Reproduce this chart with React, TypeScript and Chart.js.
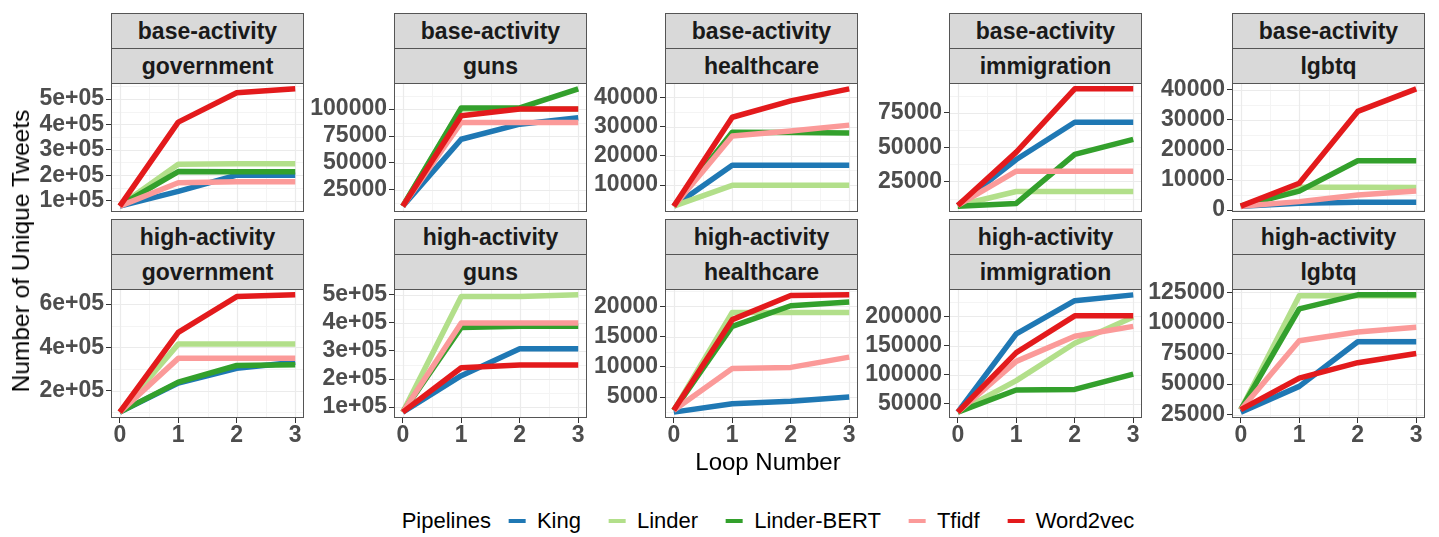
import React, { useEffect, useRef } from "react";
import { Chart, registerables } from "chart.js";
Chart.register(...registerables);

// ---------- data ----------
const loops = [0, 1, 2, 3];
const pipelines = ["King", "Linder", "Linder-BERT", "Tfidf", "Word2vec"];
const pipelineColors = ["#1F78B4", "#B2DF8A", "#33A02C", "#FB9A99", "#E31A1C"];
const activities = ["base-activity", "high-activity"];
const topics = ["government", "guns", "healthcare", "immigration", "lgbtq"];

// series values, in pipeline order: King, Linder, Linder-BERT, Tfidf, Word2vec
const baseGovernment = [
  [78000, 136000, 200000, 200000],
  [80000, 243000, 245000, 245000],
  [80000, 214000, 213000, 213000],
  [78000, 170000, 174000, 174000],
  [78000, 409000, 525000, 540000],
];
const baseGuns = [
  [10000, 72000, 86000, 92000],
  [10000, 100000, 100000, 100000],
  [10000, 101000, 101000, 118700],
  [10000, 87500, 87500, 87500],
  [10000, 93700, 100000, 100000],
];
const baseHealthcare = [
  [2800, 16800, 16800, 16800],
  [2800, 9900, 9900, 9900],
  [2800, 28100, 28000, 27800],
  [2800, 26800, 28500, 30500],
  [2800, 33200, 38800, 42900],
];
const baseImmigration = [
  [7500, 41000, 68200, 68200],
  [7500, 17700, 17700, 17700],
  [7000, 9000, 44700, 55700],
  [7500, 32500, 32500, 32500],
  [7500, 46400, 92500, 92500],
];
const baseLgbtq = [
  [1300, 2300, 2600, 2600],
  [1300, 7600, 7600, 7500],
  [1300, 6300, 16400, 16400],
  [1300, 2800, 5000, 6300],
  [1300, 8900, 32800, 40300],
];
const highGovernment = [
  [100000, 235000, 303000, 331000],
  [100000, 415000, 415000, 415000],
  [100000, 239000, 316000, 319000],
  [100000, 349000, 349000, 349000],
  [100000, 469000, 635000, 643000],
];
const highGuns = [
  [82000, 212000, 308000, 308000],
  [82000, 494000, 494000, 500000],
  [82000, 384000, 388000, 388000],
  [82000, 400000, 400000, 400000],
  [82000, 240000, 250000, 250000],
];
const highHealthcare = [
  [2500, 3900, 4300, 5000],
  [2800, 19000, 19000, 19000],
  [2800, 16700, 20100, 20700],
  [2800, 9700, 9900, 11600],
  [2800, 17800, 21800, 21900],
];
const highImmigration = [
  [36000, 170000, 227000, 237000],
  [36000, 90000, 154000, 199000],
  [36000, 74000, 75000, 101000],
  [36000, 123000, 166000, 183000],
  [36000, 138000, 201000, 201000],
];
const highLgbtq = [
  [27000, 48100, 84600, 84600],
  [29000, 122300, 122300, 122300],
  [29000, 111500, 123000, 123000],
  [29000, 85500, 92600, 96400],
  [29000, 54800, 67500, 75000],
];

// y tick values and labels per panel
const baseGovernmentTicks = [100000, 200000, 300000, 400000, 500000];
const baseGovernmentTickLabels = ["1e+05", "2e+05", "3e+05", "4e+05", "5e+05"];
const baseGunsTicks = [25000, 50000, 75000, 100000];
const baseGunsTickLabels = ["25000", "50000", "75000", "100000"];
const baseHealthcareTicks = [10000, 20000, 30000, 40000];
const baseHealthcareTickLabels = ["10000", "20000", "30000", "40000"];
const baseImmigrationTicks = [25000, 50000, 75000];
const baseImmigrationTickLabels = ["25000", "50000", "75000"];
const baseLgbtqTicks = [0, 10000, 20000, 30000, 40000];
const baseLgbtqTickLabels = ["0", "10000", "20000", "30000", "40000"];
const highGovernmentTicks = [200000, 400000, 600000];
const highGovernmentTickLabels = ["2e+05", "4e+05", "6e+05"];
const highGunsTicks = [100000, 200000, 300000, 400000, 500000];
const highGunsTickLabels = ["1e+05", "2e+05", "3e+05", "4e+05", "5e+05"];
const highHealthcareTicks = [5000, 10000, 15000, 20000];
const highHealthcareTickLabels = ["5000", "10000", "15000", "20000"];
const highImmigrationTicks = [50000, 100000, 150000, 200000];
const highImmigrationTickLabels = ["50000", "100000", "150000", "200000"];
const highLgbtqTicks = [25000, 50000, 75000, 100000, 125000];
const highLgbtqTickLabels = ["25000", "50000", "75000", "100000", "125000"];

const xTicks = [0, 1, 2, 3];

const panels = [
  { row: 0, col: 0, values: baseGovernment, ticks: baseGovernmentTicks, labels: baseGovernmentTickLabels },
  { row: 0, col: 1, values: baseGuns, ticks: baseGunsTicks, labels: baseGunsTickLabels },
  { row: 0, col: 2, values: baseHealthcare, ticks: baseHealthcareTicks, labels: baseHealthcareTickLabels },
  { row: 0, col: 3, values: baseImmigration, ticks: baseImmigrationTicks, labels: baseImmigrationTickLabels },
  { row: 0, col: 4, values: baseLgbtq, ticks: baseLgbtqTicks, labels: baseLgbtqTickLabels },
  { row: 1, col: 0, values: highGovernment, ticks: highGovernmentTicks, labels: highGovernmentTickLabels },
  { row: 1, col: 1, values: highGuns, ticks: highGunsTicks, labels: highGunsTickLabels },
  { row: 1, col: 2, values: highHealthcare, ticks: highHealthcareTicks, labels: highHealthcareTickLabels },
  { row: 1, col: 3, values: highImmigration, ticks: highImmigrationTicks, labels: highImmigrationTickLabels },
  { row: 1, col: 4, values: highLgbtq, ticks: highLgbtqTicks, labels: highLgbtqTickLabels },
];

// ---------- layout ----------
const FONT = '"Liberation Sans", Arial, Helvetica, sans-serif';
const COL_LEFT = [111, 394, 665, 949, 1232];
const PW = 193;
const STRIP_TOP = [13, 219];
const STRIP_H = 35;
const PH = 129;
const YW = 100;
const PT = 18;
const PR = 12;
const PB = 18;
const XH = 42;
const BORDER = "#555555";

const ggPanel = {
  id: "ggPanel",
  beforeDatasetsDraw(chart: any, _args: any, opts: any) {
    const { ctx, chartArea: a, scales } = chart;
    const xs = scales.x;
    const ys = scales.y;
    const yt: number[] = opts.yTicks;
    ctx.save();
    ctx.beginPath();
    ctx.rect(a.left, a.top, a.right - a.left, a.bottom - a.top);
    ctx.clip();
    const hline = (v: number, color: string, w: number) => {
      const p = Math.round(ys.getPixelForValue(v)) + 0.5;
      ctx.strokeStyle = color;
      ctx.lineWidth = w;
      ctx.beginPath();
      ctx.moveTo(a.left, p);
      ctx.lineTo(a.right, p);
      ctx.stroke();
    };
    const vline = (v: number, color: string, w: number) => {
      const p = Math.round(xs.getPixelForValue(v)) + 0.5;
      ctx.strokeStyle = color;
      ctx.lineWidth = w;
      ctx.beginPath();
      ctx.moveTo(p, a.top);
      ctx.lineTo(p, a.bottom);
      ctx.stroke();
    };
    const step = yt[1] - yt[0];
    for (let k = -4; k < yt.length + 4; k++) {
      const v = yt[0] + (k + 0.5) * step;
      if (v >= ys.min && v <= ys.max) hline(v, "#F4F4F4", 1);
    }
    for (let k = -1; k < xTicks.length; k++) {
      const v = xTicks[0] + k + 0.5;
      if (v >= xs.min && v <= xs.max) vline(v, "#F4F4F4", 1);
    }
    yt.forEach((v) => hline(v, "#EBEBEB", 1.2));
    xTicks.forEach((v) => vline(v, "#EBEBEB", 1.2));
    ctx.restore();
  },
  afterDatasetsDraw(chart: any) {
    const { ctx, chartArea: a } = chart;
    ctx.save();
    ctx.strokeStyle = BORDER;
    ctx.lineWidth = 1;
    ctx.strokeRect(
      Math.round(a.left) + 0.5,
      Math.round(a.top) + 0.5,
      Math.round(a.right - a.left) - 1,
      Math.round(a.bottom - a.top) - 1
    );
    ctx.restore();
  },
};

function Panel({ p }: { p: (typeof panels)[number] }) {
  const ref = useRef<HTMLCanvasElement | null>(null);
  const bottomRow = p.row === 1;
  const left = COL_LEFT[p.col] - YW;
  const plotTop = STRIP_TOP[p.row] + 2 * STRIP_H;
  const top = plotTop - PT;
  const width = YW + PW + PR;
  const height = PT + PH + (bottomRow ? XH : PB);

  useEffect(() => {
    if (!ref.current) return;
    let lo = Infinity;
    let hi = -Infinity;
    p.values.forEach((s) => s.forEach((v) => { lo = Math.min(lo, v); hi = Math.max(hi, v); }));
    const pad = (hi - lo) * 0.05;
    const tickFont = { family: FONT, size: 23, weight: "bold" as const, lineHeight: 1.0 };
    const chart = new Chart(ref.current, {
      type: "line",
      data: {
        datasets: pipelines.map((name, i) => ({
          label: name,
          data: loops.map((x, j) => ({ x, y: p.values[i][j] })),
          borderColor: pipelineColors[i],
          backgroundColor: pipelineColors[i],
          borderWidth: 5.5,
          pointRadius: 0,
          tension: 0,
          fill: false,
          order: pipelines.length - i,
          borderCapStyle: "butt" as const,
          borderJoinStyle: "round" as const,
        })),
      },
      options: {
        animation: false,
        responsive: false,
        maintainAspectRatio: false,
        devicePixelRatio: 1,
        events: [],
        layout: { padding: { top: PT, right: PR, bottom: bottomRow ? 0 : PB, left: 0 } },
        plugins: {
          legend: { display: false },
          tooltip: { enabled: false },
          title: { display: false },
          ggPanel: { yTicks: p.ticks },
        } as any,
        scales: {
          x: {
            type: "linear",
            min: -0.15,
            max: 3.15,
            display: bottomRow,
            afterBuildTicks: (s: any) => { s.ticks = xTicks.map((v) => ({ value: v })); },
            afterFit: (s: any) => { s.height = bottomRow ? XH : 0; },
            ticks: {
              autoSkip: false,
              maxRotation: 0,
              padding: 1,
              color: "#4D4D4D",
              font: tickFont,
              callback: (v: any) => String(v),
            },
            grid: { display: true, drawOnChartArea: false, drawTicks: true, tickLength: 5, tickColor: "#333333", tickWidth: 1 },
            border: { display: false },
          },
          y: {
            type: "linear",
            min: lo - pad,
            max: hi + pad,
            afterBuildTicks: (s: any) => { s.ticks = p.ticks.map((v) => ({ value: v })); },
            afterFit: (s: any) => { s.width = YW; },
            ticks: {
              autoSkip: false,
              padding: 2,
              color: "#4D4D4D",
              font: tickFont,
              callback: (v: any) => {
                const k = p.ticks.indexOf(Number(v));
                return k >= 0 ? p.labels[k] : "";
              },
            },
            grid: { display: true, drawOnChartArea: false, drawTicks: true, tickLength: 5, tickColor: "#333333", tickWidth: 1 },
            border: { display: false },
          },
        },
      } as any,
      plugins: [ggPanel as any],
    });
    return () => chart.destroy();
  }, []);

  return (
    <canvas
      ref={ref}
      width={width}
      height={height}
      style={{ position: "absolute", left, top, width, height }}
    />
  );
}

function Strip({ text, left, top }: { text: string; left: number; top: number }) {
  return (
    <div
      style={{
        position: "absolute",
        left,
        top,
        width: PW,
        height: STRIP_H + 1,
        boxSizing: "border-box",
        border: `1px solid ${BORDER}`,
        background: "#D9D9D9",
        color: "#1A1A1A",
        fontFamily: FONT,
        fontWeight: "bold",
        fontSize: 23,
        lineHeight: `${STRIP_H - 1}px`,
        textAlign: "center",
        whiteSpace: "nowrap",
      }}
    >
      {text}
    </div>
  );
}

export default function App() {
  const plotsLeft = COL_LEFT[0];
  const plotsRight = COL_LEFT[4] + PW;
  const centerX = (plotsLeft + plotsRight) / 2;
  const plotsTop = STRIP_TOP[0] + 2 * STRIP_H;
  const plotsBottom = STRIP_TOP[1] + 2 * STRIP_H + PH;
  const centerY = (plotsTop + plotsBottom) / 2;

  return (
    <div
      style={{
        position: "fixed",
        left: 0,
        top: 0,
        width: 1439,
        height: 537,
        background: "#FFFFFF",
        overflow: "hidden",
        fontFamily: FONT,
      }}
    >
      {panels.map((p, i) => (
        <Panel key={i} p={p} />
      ))}
      {panels.map((p, i) => (
        <React.Fragment key={"s" + i}>
          <Strip text={activities[p.row]} left={COL_LEFT[p.col]} top={STRIP_TOP[p.row]} />
          <Strip text={topics[p.col]} left={COL_LEFT[p.col]} top={STRIP_TOP[p.row] + STRIP_H} />
        </React.Fragment>
      ))}
      <div
        style={{
          position: "absolute",
          left: 21,
          top: centerY,
          transform: "translate(-50%, -50%) rotate(-90deg)",
          fontSize: 24.5,
          color: "#000",
          whiteSpace: "nowrap",
        }}
      >
        Number of Unique Tweets
      </div>
      <div
        style={{
          position: "absolute",
          left: centerX,
          top: 462,
          transform: "translate(-50%, -50%)",
          fontSize: 24,
          color: "#000",
          whiteSpace: "nowrap",
        }}
      >
        Loop Number
      </div>
      <div
        style={{
          position: "absolute",
          left: centerX,
          top: 521,
          transform: "translate(-50%, -50%)",
          display: "flex",
          alignItems: "center",
          fontSize: 22,
          color: "#000",
          whiteSpace: "nowrap",
        }}
      >
        <span>Pipelines</span>
        {pipelines.map((name, i) => (
          <React.Fragment key={name}>
            <span
              style={{
                display: "inline-block",
                width: 17,
                height: 4,
                background: pipelineColors[i],
                marginLeft: i === 0 ? 18 : 28,
              }}
            />
            <span style={{ marginLeft: 11 }}>{name}</span>
          </React.Fragment>
        ))}
      </div>
    </div>
  );
}
